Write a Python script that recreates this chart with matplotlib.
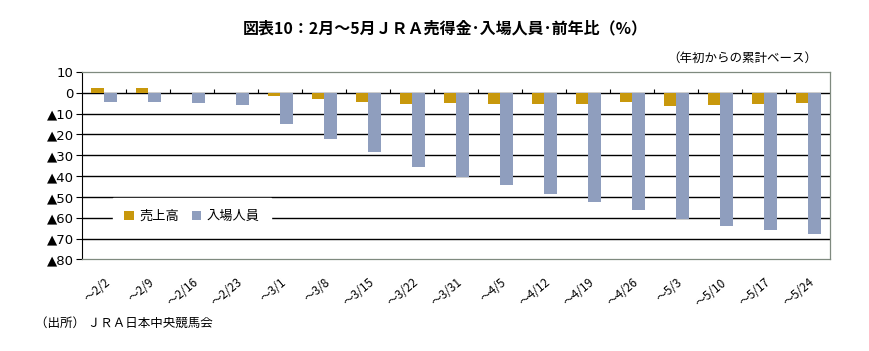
import numpy as np
import matplotlib.pyplot as plt

plt.rcParams['font.family'] = ['Noto Sans CJK JP', 'DejaVu Sans']

# データ（年初からの累計、前年比 %）
weeks = ['～2/2', '～2/9', '～2/16', '～2/23', '～3/1', '～3/8', '～3/15', '～3/22', '～3/31',
         '～4/5', '～4/12', '～4/19', '～4/26', '～5/3', '～5/10', '～5/17', '～5/24']
sales = [2.1, 2.1, 0.0, 0.0, -1.6, -3.0, -4.6, -5.6, -4.9,
         -5.4, -5.4, -5.4, -4.5, -6.4, -5.9, -5.4, -4.9]
visitors = [-4.6, -4.6, -5.1, -6.1, -15.2, -22.3, -28.5, -35.7, -40.4,
            -44.2, -48.5, -52.3, -56.1, -60.4, -63.8, -65.7, -67.6]
yticks = [10, 0, -10, -20, -30, -40, -50, -60, -70, -80]
ylabels = ['10', '0', '▲10', '▲20', '▲30', '▲40', '▲50', '▲60', '▲70', '▲80']

c_sales = '#C8980C'
c_vis = '#8F9EBE'

fig = plt.figure(figsize=(8.69, 3.51), dpi=100)
ax = fig.add_axes([0.0944, 0.261, 0.861, 0.534])

x = np.arange(len(weeks))
w = 0.285
ax.bar(x - w / 2, sales, w, color=c_sales, label='売上高', zorder=3)
ax.bar(x + w / 2, visitors, w, color=c_vis, label='入場人員', zorder=3)

# 目盛り線
for v in yticks[1:-1]:
    ax.axhline(v, color='black', lw=1.0, zorder=1)
# 区切りの目盛り（0 の線上）
ax.vlines(np.arange(0.5, len(weeks) - 0.5), 0, 1.9, color='black', lw=0.8, zorder=2)

ax.set_xlim(-0.5, len(weeks) - 0.5)
ax.set_ylim(-80, 10)
ax.set_yticks(yticks)
ax.set_yticklabels(ylabels, fontsize=9.5, family='DejaVu Sans')
ax.tick_params(axis='y', length=4, width=0.8, pad=2)
ax.set_xticks(x)
ax.set_xticklabels(weeks, rotation=40, ha='right', rotation_mode='anchor', fontsize=8.5)
ax.tick_params(axis='x', length=0, pad=12)

for s in ['top', 'right', 'bottom']:
    ax.spines[s].set_color('#7f8a7f')
    ax.spines[s].set_linewidth(0.9)
ax.spines['left'].set_color('black')

leg = ax.legend(loc='lower left', bbox_to_anchor=(0.032, 0.095), ncol=2, frameon=True,
                fontsize=9.5, handlelength=0.7, handleheight=0.7, handletextpad=0.4,
                columnspacing=1.0, borderpad=0.9, fancybox=False)
leg.get_frame().set_edgecolor('white')
leg.get_frame().set_facecolor('white')
leg.get_frame().set_alpha(1)
leg.set_zorder(5)

fig.text(0.512, 0.92, '図表10：2月～5月ＪＲＡ売得金･入場人員･前年比（%）', ha='center', va='center',
         fontsize=11.5, fontweight='bold')
fig.text(0.94, 0.835, '（年初からの累計ベース）', ha='right', va='center', fontsize=9)
fig.text(0.04, 0.08, '（出所） ＪＲＡ日本中央競馬会', ha='left', va='center', fontsize=9)

fig.savefig('out.png', dpi=100)
